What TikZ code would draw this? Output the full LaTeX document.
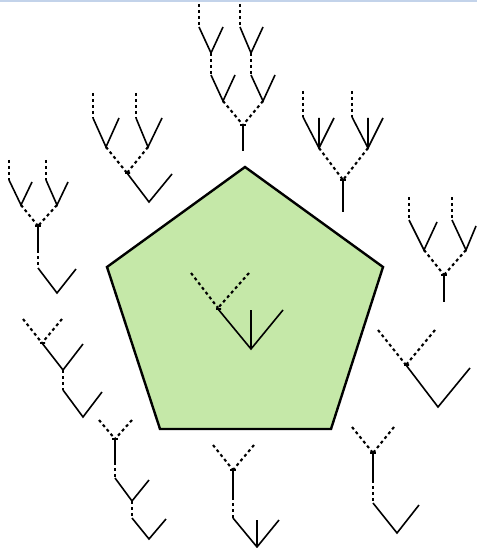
\documentclass[tikz,border=0pt]{standalone}
\definecolor{pentfill}{HTML}{C5E8A8}
\definecolor{topline}{HTML}{C3D3EA}
\begin{document}
\begin{tikzpicture}[x=1pt,y=-1pt,
  solidline/.style={line width=1.6pt},
  dotline/.style={line width=2.1pt, dash pattern=on 3pt off 3pt},
  pentline/.style={line width=2.4pt, line join=miter, fill=pentfill}]
\useasboundingbox (0,0) rectangle (477,548);
\fill[white] (0,0) rectangle (477,548);
\draw[topline, line width=2pt] (0,1) -- (477,1);
% pentagon
\draw[pentline] (245,167) -- (383,267) -- (331,429) -- (160,429) -- (107,267) -- cycle;

% tree 1 (top centre)
\draw[dotline] (199,4) -- (199,27) (240,4) -- (240,27);
\draw[solidline] (199,27) -- (211,53) -- (223,27) (240,27) -- (251,53) -- (263,27);
\draw[dotline] (211,53) -- (211,75) (251,53) -- (251,75);
\draw[solidline] (211,75) -- (223,101) -- (235,75) (251,75) -- (263,101) -- (275,75);
\draw[dotline] (223,101) -- (243,125) (263,101) -- (243,125);
\draw[solidline] (243,125) -- (243,151) (240,125) -- (246,125);

% tree 2 (upper left)
\draw[dotline] (93,93) -- (93,118) (136,93) -- (136,118);
\draw[solidline] (93,118) -- (106,147) -- (119,118) (136,118) -- (148,147) -- (162,118);
\draw[dotline] (106,147) -- (127,173) (148,147) -- (127,173);
\draw[solidline] (127,173) -- (149,202) -- (172,174) (125,173) -- (130,173);

% tree 3 (upper right)
\draw[dotline] (303,91) -- (303,117) (352,91) -- (352,117);
\draw[solidline] (303,117) -- (319,148) -- (334,118) (319,118) -- (319,148);
\draw[solidline] (352,117) -- (368,148) -- (383,118) (368,118) -- (368,148);
\draw[dotline] (319,148) -- (343,180) (368,148) -- (343,180);
\draw[solidline] (343,180) -- (343,212) (340,180) -- (346,180);

% tree 4 (left)
\draw[dotline] (9,160) -- (9,180) (46,160) -- (46,180);
\draw[solidline] (9,180) -- (21,205) -- (32,182) (46,180) -- (57,205) -- (68,182);
\draw[dotline] (21,205) -- (38,226) (57,205) -- (38,226);
\draw[solidline] (38,226) -- (38,250) (35,226) -- (41,226);
\draw[dotline] (38,250) -- (38,268);
\draw[solidline] (38,268) -- (57,293) -- (76,269);

% tree 5 (right)
\draw[dotline] (409,197) -- (409,220) (452,197) -- (452,220);
\draw[solidline] (409,220) -- (424,250) -- (437,222) (452,220) -- (466,250) -- (476,226);
\draw[dotline] (424,250) -- (444,275) (466,250) -- (444,275);
\draw[solidline] (444,275) -- (444,302) (441,275) -- (447,275);

% tree 6 (inside pentagon)
\draw[dotline] (191,273) -- (218,308) (249,273) -- (218,308);
\draw[solidline] (218,309) -- (251,349) -- (283,310) (251,310) -- (251,349) (216,309) -- (221,309);

% tree 7 (right, lower)
\draw[dotline] (378,330) -- (406,365) (435,330) -- (406,365);
\draw[solidline] (406,365) -- (438,407) -- (470,368) (404,365) -- (409,365);

% tree 8 (left, lower)
\draw[dotline] (23,319) -- (42,343) (62,319) -- (42,343);
\draw[solidline] (42,343) -- (63,370) -- (83,344) (40,343) -- (45,343);
\draw[dotline] (63,370) -- (63,390);
\draw[solidline] (63,390) -- (83,417) -- (102,392);

% tree 9 (bottom left)
\draw[dotline] (99,420) -- (115,439) (132,420) -- (115,439);
\draw[solidline] (115,439) -- (115,462) (112,439) -- (118,439);
\draw[dotline] (115,462) -- (115,478);
\draw[solidline] (115,478) -- (132,501) -- (149,480);
\draw[dotline] (132,501) -- (132,518);
\draw[solidline] (132,518) -- (149,539) -- (166,519);

% tree 10 (bottom centre)
\draw[dotline] (213,445) -- (233,470) (254,445) -- (233,470);
\draw[solidline] (233,470) -- (233,497) (230,470) -- (236,470);
\draw[dotline] (233,497) -- (233,518);
\draw[solidline] (233,518) -- (257,547) -- (279,520) (257,520) -- (257,547);

% tree 11 (bottom right)
\draw[dotline] (352,427) -- (373,453) (394,427) -- (373,453);
\draw[solidline] (373,453) -- (373,480) (370,453) -- (376,453);
\draw[dotline] (373,480) -- (373,503);
\draw[solidline] (373,503) -- (397,533) -- (419,505);
\end{tikzpicture}
\end{document}
